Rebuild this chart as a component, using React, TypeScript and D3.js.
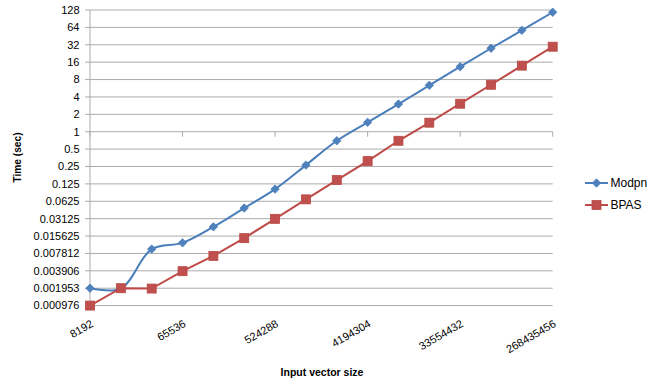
import React from "react";
import * as d3 from "d3";

const sizes = [8192, 16384, 32768, 65536, 131072, 262144, 524288, 1048576, 2097152, 4194304, 8388608, 16777216, 33554432, 67108864, 134217728, 268435456];
const modpn = [0.001953, 0.001926, 0.00929, 0.01192, 0.02256, 0.0477, 0.1015, 0.2642, 0.697, 1.454, 3.01, 6.36, 13.36, 27.86, 56.9, 117.0];
const bpas = [0.000977, 0.001953, 0.001926, 0.003853, 0.00709, 0.01438, 0.03103, 0.06745, 0.1456, 0.3099, 0.697, 1.434, 3.053, 6.498, 13.93, 29.65];
const yTickValues = [128, 64, 32, 16, 8, 4, 2, 1, 0.5, 0.25, 0.125, 0.0625, 0.03125, 0.015625, 0.0078125, 0.00390625, 0.001953125, 0.0009765625];
const yTickLabels = ["128", "64", "32", "16", "8", "4", "2", "1", "0.5", "0.25", "0.125", "0.0625", "0.03125", "0.015625", "0.007812", "0.003906", "0.001953", "0.000976"];
const xLabelEvery = 3;

const W = 656, H = 383;
const left = 90, right = 552.7, top = 10, bottom = 305.6;
const FONT = "'Liberation Sans', Arial, sans-serif";
const GRID = "#ABABAB";
const BLUE_LINE = "#4A7EBB", BLUE_FILL = "#4F81BD";
const RED_LINE = "#BE4B48", RED_FILL = "#C0504D", RED_STROKE = "#B84744";

export default function App() {
  const x = d3.scalePoint<number>().domain(sizes).range([left, right]);
  const y = d3.scaleLog().base(2).domain([0.0009765625, 128]).range([bottom, top]);

  const blueLine = d3.line<number>()
    .x((_, i) => x(sizes[i])!)
    .y((d) => y(d))
    .curve(d3.curveCatmullRom.alpha(0.5));
  const redLine = d3.line<number>()
    .x((_, i) => x(sizes[i])!)
    .y((d) => y(d));

  const y1 = y(1);
  const diamond = (cx: number, cy: number, r: number) =>
    `M${cx},${cy - r}L${cx + r},${cy}L${cx},${cy + r}L${cx - r},${cy}Z`;

  return (
    <svg width={W} height={H} style={{ position: "absolute", left: 0, top: 0, background: "#fff" }}>
      {/* gridlines + y ticks */}
      {yTickValues.map((v, i) => (
        <g key={i}>
          <line x1={left - 5} x2={right} y1={y(v)} y2={y(v)} stroke={GRID} strokeWidth={1} />
          <text x={79.5} y={y(v)} dy="0.35em" textAnchor="end" fontFamily={FONT} fontSize={11} fill="#000">
            {yTickLabels[i]}
          </text>
        </g>
      ))}
      {/* y axis */}
      <line x1={left} x2={left} y1={top} y2={bottom} stroke={GRID} strokeWidth={1} />
      {/* x axis ticks at y=1 */}
      {sizes.map((s, i) =>
        i % xLabelEvery === 0 ? (
          <line key={i} x1={x(s)} x2={x(s)} y1={y1} y2={y1 + 5} stroke={GRID} strokeWidth={1} />
        ) : null
      )}
      {/* x labels */}
      {sizes.map((s, i) =>
        i % xLabelEvery === 0 ? (
          <text key={i} transform={`translate(${x(s)! + 4},326) rotate(-30)`} textAnchor="end"
            fontFamily={FONT} fontSize={11} fill="#000">
            {String(s)}
          </text>
        ) : null
      )}
      {/* series */}
      <path d={blueLine(modpn) || ""} fill="none" stroke={BLUE_LINE} strokeWidth={2} />
      <path d={redLine(bpas) || ""} fill="none" stroke={RED_LINE} strokeWidth={2} />
      {modpn.map((v, i) => (
        <path key={i} d={diamond(x(sizes[i])!, y(v), 4.2)} fill={BLUE_FILL} stroke={BLUE_LINE} strokeWidth={0.8} />
      ))}
      {bpas.map((v, i) => (
        <rect key={i} x={x(sizes[i])! - 4.5} y={y(v) - 4.5} width={9} height={9} fill={RED_FILL} stroke={RED_STROKE} strokeWidth={0.8} />
      ))}
      {/* axis titles */}
      <text x={322} y={376} textAnchor="middle" fontFamily={FONT} fontWeight="bold" fontSize={10.5} fill="#000">
        Input vector size
      </text>
      <text transform="translate(21,157.5) rotate(-90)" textAnchor="middle" fontFamily={FONT} fontWeight="bold" fontSize={10.2} fill="#000">
        Time (sec)
      </text>
      {/* legend */}
      <g>
        <line x1={585} x2={608} y1={183} y2={183} stroke={BLUE_LINE} strokeWidth={2} />
        <path d={diamond(596.5, 183, 4.2)} fill={BLUE_FILL} stroke={BLUE_LINE} strokeWidth={0.8} />
        <text x={610.5} y={183} dy="0.35em" fontFamily={FONT} fontSize={12} fill="#000">Modpn</text>
        <line x1={585} x2={608} y1={205} y2={205} stroke={RED_LINE} strokeWidth={2} />
        <rect x={592} y={200.5} width={9} height={9} fill={RED_FILL} stroke={RED_STROKE} strokeWidth={0.8} />
        <text x={610.5} y={205} dy="0.35em" fontFamily={FONT} fontSize={12} fill="#000">BPAS</text>
      </g>
    </svg>
  );
}
